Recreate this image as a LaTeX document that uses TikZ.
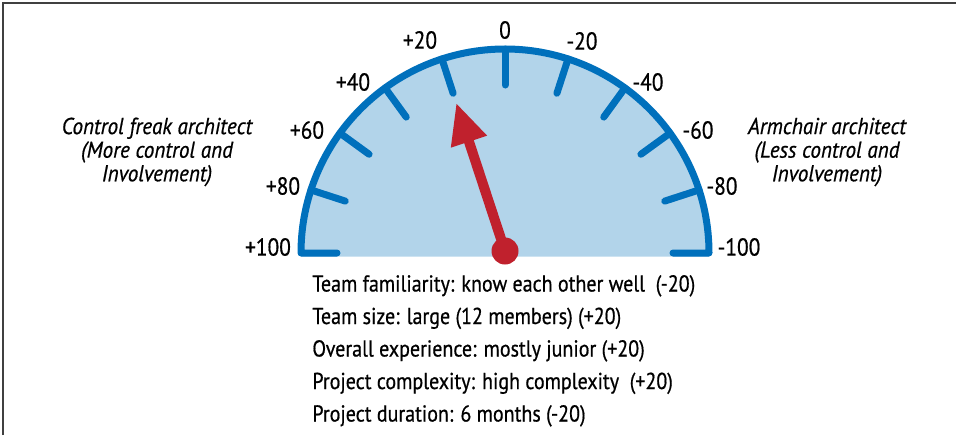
\documentclass[tikz,border=0pt]{standalone}
\usepackage{fontspec}
\setmainfont{PT Sans}[FakeStretch=0.87,FakeBold=0.6,ItalicFeatures={FakeStretch=0.92}]
\usetikzlibrary{arrows.meta}
\definecolor{gaugeblue}{RGB}{0,112,188}
\definecolor{gaugefill}{RGB}{178,212,234}
\definecolor{needlered}{RGB}{192,33,45}
\begin{document}
\begin{tikzpicture}[x=0.5pt,y=0.5pt,
    tick/.style={gaugeblue,line width=3.5pt,line cap=round},
    scalelabel/.style={font=\fontsize{12.3}{14}\selectfont,inner sep=0pt},
    side/.style={font=\fontsize{11.5}{11.8}\selectfont\itshape,align=center},
    fact/.style={font=\fontsize{11.5}{13}\selectfont,inner sep=0pt,anchor=base west},
    needle/.style={needlered,line width=5pt,-{Triangle[length=20.5pt,width=17.5pt]}}]
        \useasboundingbox (-505,-182) rectangle (451,253);
        % frame
        \draw[black!75,line width=0.8pt] (-502,-182) -- (-502,250) -- (451,250);
        % dial
        \fill[gaugefill] (-204,-3.5) -- (-204,0) arc (180:0:204) -- (204,-3.5) -- cycle;
        \draw[tick,line join=round] (-168,0) -- (-204,0) arc (180:0:204) -- (168,0);
        \foreach \a in {18,36,...,162} {
            \draw[tick] (\a:168) -- (\a:204);
        }
        % scale values
        \foreach \v/\x/\y [count=\i] in {+100/-237/6, +80/-222/67, +60/-198/123, +40/-152/171, +20/-85/213,
            0/0/223, -20/77/212, -40/143/171, -60/193/123, -80/217/67, -100/234/6} {
            \node[scalelabel] (lbl\i) at (\x,\y) {\v};
        }
        % needle
        \node[circle,fill=needlered,minimum size=13.5pt,inner sep=0pt] (pin) at (0,2) {};
        \coordinate (tip) at (108:158);
        \draw[needle] (pin.center) -- (tip);
        % side texts
        \node[side] (control) at (-348,101) {Control freak architect\\(More control and\\Involvement)};
        \node[side] (armchair) at (322,101) {Armchair architect\\(Less control and\\Involvement)};
        % factors
        \foreach \txt [count=\i] in {Team familiarity: know each other well\ \ (-20),
            Team size: large (12 members) (+20),
            Overall experience: mostly junior (+20),
            Project complexity: high complexity\ \ (+20),
            Project duration: 6 months (-20)} {
            \node[fact] (fact\i) at (-193,{-38.5-32.5*(\i-1)}) {\txt};
        }
\end{tikzpicture}
\end{document}
